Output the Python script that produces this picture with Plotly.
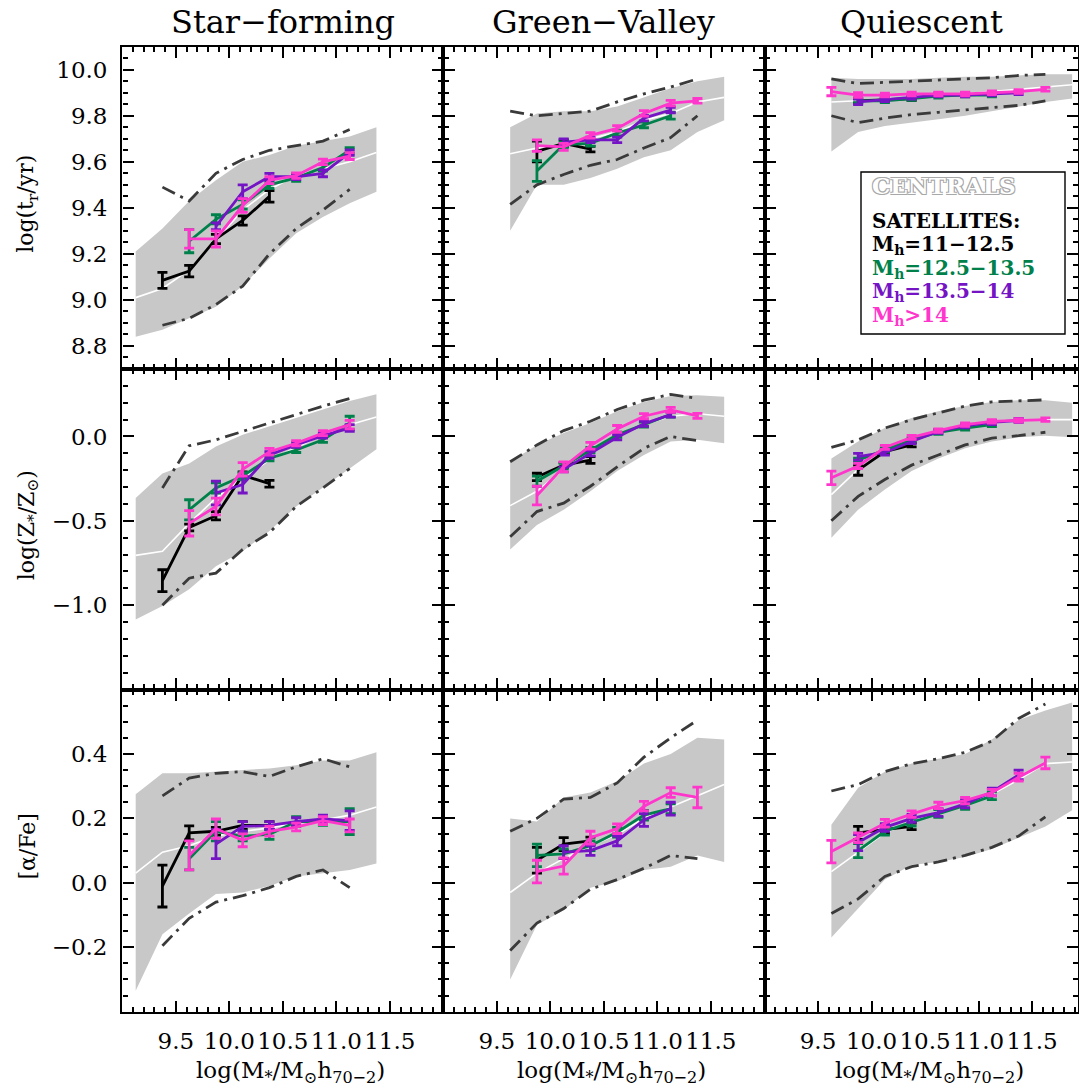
import plotly.graph_objects as go

W, H = 1079, 1088

# ------------------------------------------------------------------
# Stellar-mass bin centres (log M*/Msun h70^-2)
# ------------------------------------------------------------------
M_FROM_9125 = [9.125, 9.375, 9.625, 9.875, 10.125, 10.375, 10.625, 10.875, 11.125, 11.375]
M_FROM_9375 = [9.375, 9.625, 9.875, 10.125, 10.375, 10.625, 10.875, 11.125]
M_FROM_9625 = [9.625, 9.875, 10.125, 10.375, 10.625, 10.875, 11.125, 11.375, 11.625]
M_FROM_9625_LONG = [9.625, 9.875, 10.125, 10.375, 10.625, 10.875, 11.125, 11.375, 11.625, 11.875]
M_GV_DD = [9.625, 9.875, 10.125, 10.375, 10.625, 10.875, 11.125, 11.375]

# ------------------------------------------------------------------
# Star-forming : log age
# ------------------------------------------------------------------
sf_age_band_hi = [9.21, 9.31, 9.43, 9.52, 9.60, 9.63, 9.67, 9.69, 9.71, 9.75]
sf_age_band_lo = [8.84, 8.87, 8.92, 8.97, 9.06, 9.18, 9.29, 9.36, 9.42, 9.47]
sf_age_band_med = [9.01, 9.05, 9.13, 9.26, 9.39, 9.48, 9.54, 9.57, 9.60, 9.64]
sf_age_dd_hi = [9.49, 9.43, 9.55, 9.61, 9.65, 9.67, 9.69, 9.74]
sf_age_dd_lo = [8.89, 8.92, 8.98, 9.06, 9.20, 9.31, 9.39, 9.48]
sf_age_k_x = [9.375, 9.625, 9.875, 10.125, 10.375]
sf_age_k_y = [9.085, 9.125, 9.265, 9.345, 9.45]
sf_age_k_e = [0.035, 0.025, 0.02, 0.02, 0.025]
sf_age_g_x = [9.625, 9.875, 10.125, 10.375, 10.625, 10.875, 11.125]
sf_age_g_y = [9.255, 9.35, 9.415, 9.50, 9.53, 9.575, 9.65]
sf_age_g_e = [0.05, 0.02, 0.02, 0.015, 0.015, 0.015, 0.012]
sf_age_p_x = [9.875, 10.125, 10.375, 10.625, 10.875, 11.125]
sf_age_p_y = [9.32, 9.47, 9.535, 9.535, 9.55, 9.64]
sf_age_p_e = [0.015, 0.03, 0.015, 0.012, 0.015, 0.012]
sf_age_m_x = [9.625, 9.875, 10.125, 10.375, 10.625, 10.875, 11.125]
sf_age_m_y = [9.265, 9.265, 9.41, 9.52, 9.54, 9.60, 9.625]
sf_age_m_e = [0.04, 0.035, 0.03, 0.015, 0.012, 0.012, 0.015]

# ------------------------------------------------------------------
# Green valley : log age
# ------------------------------------------------------------------
gv_age_band_hi = [9.75, 9.81, 9.82, 9.82, 9.84, 9.88, 9.92, 9.95, 9.97]
gv_age_band_lo = [9.30, 9.50, 9.50, 9.53, 9.57, 9.62, 9.65, 9.73, 9.78]
gv_age_band_med = [9.635, 9.66, 9.675, 9.70, 9.73, 9.78, 9.81, 9.86, 9.88]
gv_age_dd_hi = [9.82, 9.80, 9.81, 9.82, 9.86, 9.895, 9.925, 9.96]
gv_age_dd_lo = [9.415, 9.50, 9.545, 9.585, 9.61, 9.66, 9.705, 9.80]
gv_age_k_x = [9.875, 10.125, 10.375]
gv_age_k_y = [9.645, 9.68, 9.655]
gv_age_k_e = [0.045, 0.015, 0.012]
gv_age_g_x = [9.875, 10.125, 10.375, 10.625, 10.875, 11.125]
gv_age_g_y = [9.56, 9.675, 9.68, 9.725, 9.76, 9.80]
gv_age_g_e = [0.045, 0.012, 0.012, 0.012, 0.012, 0.015]
gv_age_p_x = [10.125, 10.375, 10.625, 10.875, 11.125]
gv_age_p_y = [9.685, 9.695, 9.695, 9.79, 9.825]
gv_age_p_e = [0.015, 0.012, 0.012, 0.012, 0.012]
gv_age_m_x = [9.875, 10.125, 10.375, 10.625, 10.875, 11.125, 11.375]
gv_age_m_y = [9.67, 9.665, 9.715, 9.745, 9.81, 9.855, 9.865]
gv_age_m_e = [0.025, 0.015, 0.012, 0.012, 0.012, 0.012, 0.01]

# ------------------------------------------------------------------
# Quiescent : log age
# ------------------------------------------------------------------
q_age_band_hi = [9.965, 9.96, 9.96, 9.96, 9.965, 9.97, 9.97, 9.975, 9.98, 9.98]
q_age_band_lo = [9.645, 9.73, 9.755, 9.77, 9.785, 9.80, 9.82, 9.84, 9.86, 9.875]
q_age_band_med = [9.86, 9.865, 9.875, 9.88, 9.885, 9.895, 9.905, 9.915, 9.925, 9.935]
q_age_dd_hi = [9.96, 9.94, 9.945, 9.95, 9.955, 9.96, 9.965, 9.975, 9.98]
q_age_dd_lo = [9.80, 9.77, 9.79, 9.805, 9.815, 9.825, 9.835, 9.845, 9.865]
q_age_k_x = [9.875, 10.125, 10.375]
q_age_k_y = [9.865, 9.87, 9.875]
q_age_k_e = [0.01, 0.008, 0.008]
q_age_g_x = [9.875, 10.125, 10.375, 10.625, 10.875, 11.125]
q_age_g_y = [9.865, 9.865, 9.875, 9.885, 9.89, 9.89]
q_age_g_e = [0.008, 0.008, 0.008, 0.008, 0.008, 0.008]
q_age_p_x = [9.875, 10.125, 10.375, 10.625, 10.875, 11.125, 11.375]
q_age_p_y = [9.86, 9.87, 9.88, 9.89, 9.89, 9.895, 9.90]
q_age_p_e = [0.012, 0.008, 0.008, 0.008, 0.008, 0.008, 0.008]
q_age_m_x = [9.625, 9.875, 10.125, 10.375, 10.625, 10.875, 11.125, 11.375, 11.625]
q_age_m_y = [9.905, 9.89, 9.89, 9.895, 9.895, 9.895, 9.90, 9.905, 9.915]
q_age_m_e = [0.018, 0.01, 0.008, 0.008, 0.008, 0.008, 0.008, 0.008, 0.008]

# ------------------------------------------------------------------
# Star-forming : log Z
# ------------------------------------------------------------------
sf_z_band_hi = [-0.365, -0.22, -0.16, -0.06, 0.01, 0.06, 0.11, 0.16, 0.21, 0.25]
sf_z_band_lo = [-1.085, -1.005, -0.905, -0.77, -0.68, -0.56, -0.415, -0.305, -0.19, -0.075]
sf_z_band_med = [-0.705, -0.68, -0.515, -0.365, -0.245, -0.14, -0.065, 0.01, 0.07, 0.115]
sf_z_dd_hi = [-0.305, -0.055, -0.02, 0.03, 0.08, 0.13, 0.18, 0.225]
sf_z_dd_lo = [-1.0, -0.84, -0.81, -0.67, -0.57, -0.415, -0.305, -0.19]
sf_z_k_x = [9.375, 9.625, 9.875, 10.125, 10.375]
sf_z_k_y = [-0.855, -0.54, -0.47, -0.23, -0.28]
sf_z_k_e = [0.065, 0.02, 0.025, 0.02, 0.02]
sf_z_g_x = [9.625, 9.875, 10.125, 10.375, 10.625, 10.875, 11.125]
sf_z_g_y = [-0.435, -0.305, -0.235, -0.13, -0.08, -0.02, 0.08]
sf_z_g_e = [0.06, 0.03, 0.02, 0.015, 0.015, 0.015, 0.04]
sf_z_p_x = [9.875, 10.125, 10.375, 10.625, 10.875, 11.125]
sf_z_p_y = [-0.335, -0.285, -0.11, -0.05, 0.005, 0.05]
sf_z_p_e = [0.07, 0.05, 0.02, 0.015, 0.015, 0.02]
sf_z_m_x = [9.625, 9.875, 10.125, 10.375, 10.625, 10.875, 11.125]
sf_z_m_y = [-0.515, -0.415, -0.195, -0.09, -0.04, 0.02, 0.07]
sf_z_m_e = [0.075, 0.05, 0.04, 0.02, 0.015, 0.015, 0.025]

# ------------------------------------------------------------------
# Green valley : log Z
# ------------------------------------------------------------------
gv_z_band_hi = [-0.15, -0.05, 0.02, 0.08, 0.15, 0.205, 0.24, 0.245, 0.235]
gv_z_band_lo = [-0.67, -0.525, -0.435, -0.325, -0.205, -0.11, -0.03, -0.02, -0.04]
gv_z_band_med = [-0.41, -0.325, -0.195, -0.08, 0.01, 0.07, 0.12, 0.135, 0.12]
gv_z_dd_hi = [-0.15, -0.05, 0.035, 0.09, 0.16, 0.215, 0.25, 0.225]
gv_z_dd_lo = [-0.595, -0.445, -0.395, -0.295, -0.18, -0.07, 0.0, -0.025]
gv_z_k_x = [9.875, 10.125, 10.375]
gv_z_k_y = [-0.24, -0.17, -0.14]
gv_z_k_e = [0.022, 0.015, 0.02]
gv_z_g_x = [9.875, 10.125, 10.375, 10.625, 10.875, 11.125]
gv_z_g_y = [-0.265, -0.175, -0.08, 0.01, 0.07, 0.13]
gv_z_g_e = [0.03, 0.015, 0.015, 0.015, 0.015, 0.015]
gv_z_p_x = [10.125, 10.375, 10.625, 10.875, 11.125]
gv_z_p_y = [-0.195, -0.10, -0.005, 0.075, 0.13]
gv_z_p_e = [0.015, 0.015, 0.015, 0.015, 0.015]
gv_z_m_x = [9.875, 10.125, 10.375, 10.625, 10.875, 11.125, 11.375]
gv_z_m_y = [-0.35, -0.18, -0.055, 0.045, 0.12, 0.158, 0.122]
gv_z_m_e = [0.055, 0.03, 0.02, 0.02, 0.015, 0.015, 0.015]

# ------------------------------------------------------------------
# Quiescent : log Z
# ------------------------------------------------------------------
q_z_band_hi = [-0.13, -0.03, 0.05, 0.11, 0.15, 0.18, 0.205, 0.215, 0.215, 0.20]
q_z_band_lo = [-0.60, -0.435, -0.315, -0.205, -0.13, -0.07, -0.03, -0.005, 0.005, -0.005]
q_z_band_med = [-0.345, -0.195, -0.09, -0.02, 0.025, 0.06, 0.08, 0.093, 0.10, 0.10]
q_z_dd_hi = [-0.065, -0.02, 0.05, 0.10, 0.14, 0.18, 0.205, 0.213, 0.217]
q_z_dd_lo = [-0.50, -0.355, -0.255, -0.17, -0.11, -0.05, -0.01, 0.005, 0.025]
q_z_k_x = [9.875, 10.125, 10.375]
q_z_k_y = [-0.20, -0.09, -0.05]
q_z_k_e = [0.03, 0.012, 0.012]
q_z_g_x = [9.875, 10.125, 10.375, 10.625, 10.875, 11.125]
q_z_g_y = [-0.14, -0.08, -0.02, 0.025, 0.05, 0.07]
q_z_g_e = [0.012, 0.012, 0.012, 0.012, 0.012, 0.012]
q_z_p_x = [9.875, 10.125, 10.375, 10.625, 10.875, 11.125, 11.375]
q_z_p_y = [-0.12, -0.095, -0.03, 0.03, 0.063, 0.083, 0.095]
q_z_p_e = [0.02, 0.015, 0.012, 0.012, 0.012, 0.012, 0.012]
q_z_m_x = [9.625, 9.875, 10.125, 10.375, 10.625, 10.875, 11.125, 11.375, 11.625]
q_z_m_y = [-0.245, -0.175, -0.065, -0.005, 0.035, 0.07, 0.09, 0.095, 0.10]
q_z_m_e = [0.04, 0.015, 0.012, 0.012, 0.01, 0.01, 0.01, 0.01, 0.01]

# ------------------------------------------------------------------
# Star-forming : [alpha/Fe]
# ------------------------------------------------------------------
sf_a_band_hi = [0.275, 0.34, 0.34, 0.345, 0.35, 0.355, 0.365, 0.38, 0.38, 0.405]
sf_a_band_lo = [-0.335, -0.16, -0.095, -0.035, -0.03, -0.01, 0.02, 0.03, 0.04, 0.06]
sf_a_band_med = [0.03, 0.095, 0.115, 0.145, 0.16, 0.17, 0.185, 0.195, 0.21, 0.235]
sf_a_dd_hi = [0.27, 0.325, 0.34, 0.345, 0.33, 0.36, 0.385, 0.36]
sf_a_dd_lo = [-0.195, -0.11, -0.06, -0.04, -0.015, 0.02, 0.04, -0.015]
sf_a_k_x = [9.375, 9.625, 9.875, 10.125, 10.375]
sf_a_k_y = [-0.01, 0.155, 0.16, 0.178, 0.178]
sf_a_k_e = [0.065, 0.022, 0.012, 0.012, 0.012]
sf_a_g_x = [9.625, 9.875, 10.125, 10.375, 10.625, 10.875, 11.125]
sf_a_g_y = [0.075, 0.16, 0.145, 0.15, 0.19, 0.19, 0.19]
sf_a_g_e = [0.035, 0.03, 0.015, 0.015, 0.015, 0.012, 0.04]
sf_a_p_x = [9.875, 10.125, 10.375, 10.625, 10.875, 11.125]
sf_a_p_y = [0.12, 0.175, 0.178, 0.19, 0.198, 0.193]
sf_a_p_e = [0.045, 0.015, 0.012, 0.012, 0.012, 0.03]
sf_a_m_x = [9.625, 9.875, 10.125, 10.375, 10.625, 10.875, 11.125]
sf_a_m_y = [0.085, 0.168, 0.132, 0.16, 0.173, 0.193, 0.178]
sf_a_m_e = [0.045, 0.03, 0.02, 0.015, 0.012, 0.012, 0.02]

# ------------------------------------------------------------------
# Green valley : [alpha/Fe]
# ------------------------------------------------------------------
gv_a_band_hi = [0.20, 0.19, 0.265, 0.28, 0.315, 0.37, 0.40, 0.45, 0.445]
gv_a_band_lo = [-0.30, -0.13, -0.085, -0.015, 0.005, 0.04, 0.05, 0.085, 0.065]
gv_a_band_med = [-0.03, 0.03, 0.075, 0.115, 0.15, 0.20, 0.235, 0.27, 0.305]
gv_a_dd_hi = [0.16, 0.20, 0.26, 0.265, 0.31, 0.39, 0.45, 0.505]
gv_a_dd_lo = [-0.21, -0.125, -0.08, -0.02, 0.01, 0.045, 0.085, 0.075]
gv_a_k_x = [9.875, 10.125, 10.375]
gv_a_k_y = [0.07, 0.12, 0.13]
gv_a_k_e = [0.04, 0.02, 0.012]
gv_a_g_x = [9.875, 10.125, 10.375, 10.625, 10.875, 11.125]
gv_a_g_y = [0.085, 0.09, 0.115, 0.157, 0.21, 0.23]
gv_a_g_e = [0.035, 0.015, 0.015, 0.015, 0.015, 0.015]
gv_a_p_x = [10.125, 10.375, 10.625, 10.875, 11.125]
gv_a_p_y = [0.095, 0.10, 0.13, 0.195, 0.23]
gv_a_p_e = [0.02, 0.015, 0.015, 0.02, 0.02]
gv_a_m_x = [9.875, 10.125, 10.375, 10.625, 10.875, 11.125, 11.375]
gv_a_m_y = [0.035, 0.052, 0.14, 0.168, 0.238, 0.28, 0.265]
gv_a_m_e = [0.035, 0.025, 0.02, 0.015, 0.015, 0.015, 0.032]

# ------------------------------------------------------------------
# Quiescent : [alpha/Fe]
# ------------------------------------------------------------------
q_a_band_hi = [0.18, 0.295, 0.345, 0.37, 0.385, 0.40, 0.445, 0.505, 0.535, 0.56]
q_a_band_lo = [-0.17, -0.08, 0.01, 0.055, 0.065, 0.08, 0.105, 0.14, 0.175, 0.225]
q_a_band_med = [0.035, 0.095, 0.155, 0.19, 0.22, 0.245, 0.275, 0.32, 0.37, 0.375]
q_a_dd_hi = [0.285, 0.305, 0.345, 0.37, 0.385, 0.405, 0.44, 0.51, 0.555]
q_a_dd_lo = [-0.095, -0.05, 0.02, 0.05, 0.065, 0.085, 0.11, 0.145, 0.205]
q_a_k_x = [9.875, 10.125, 10.375]
q_a_k_y = [0.155, 0.165, 0.175]
q_a_k_e = [0.02, 0.012, 0.01]
q_a_g_x = [9.875, 10.125, 10.375, 10.625, 10.875, 11.125]
q_a_g_y = [0.10, 0.16, 0.188, 0.215, 0.24, 0.27]
q_a_g_e = [0.022, 0.012, 0.012, 0.012, 0.012, 0.012]
q_a_p_x = [9.875, 10.125, 10.375, 10.625, 10.875, 11.125, 11.375]
q_a_p_y = [0.125, 0.172, 0.20, 0.218, 0.245, 0.282, 0.335]
q_a_p_e = [0.025, 0.012, 0.012, 0.012, 0.012, 0.012, 0.015]
q_a_m_x = [9.625, 9.875, 10.125, 10.375, 10.625, 10.875, 11.125, 11.375, 11.625]
q_a_m_y = [0.097, 0.14, 0.185, 0.213, 0.24, 0.255, 0.28, 0.328, 0.372]
q_a_m_e = [0.035, 0.015, 0.012, 0.01, 0.01, 0.01, 0.01, 0.012, 0.018]

# ------------------------------------------------------------------
# Labels and styles
# ------------------------------------------------------------------
COLUMN_TITLES = ["Star\u2212forming", "Green\u2212Valley", "Quiescent"]
ROW_TITLES = ["log(t<sub>r</sub>/yr)", "log(Z<sub>*</sub>/Z<sub>\u2299</sub>)", "[\u03b1/Fe]"]
X_TITLE = "log(M<sub>*</sub>/M<sub>\u2299</sub>h<sub>70\u22122</sub>)"
X_TICKS = [9.5, 10.0, 10.5, 11.0, 11.5]
Y_TICKS = [[8.8, 9.0, 9.2, 9.4, 9.6, 9.8, 10.0], [-1.0, -0.5, 0.0], [-0.2, 0.0, 0.2, 0.4]]
Y_RANGES = [[8.7, 10.1], [-1.5, 0.4], [-0.4, 0.6]]
Y_MINOR = [0.05, 0.1, 0.05]
GROUP_NAMES = ["M<sub>h</sub>=11\u221212.5", "M<sub>h</sub>=12.5\u221213.5",
               "M<sub>h</sub>=13.5\u221214", "M<sub>h</sub>>14"]
GROUP_COLORS = ["#000000", "#00804a", "#7414c4", "#ff36cc"]

BAND_COLOR = "#c8c8c8"
DD_COLOR = "#3a3a3a"
FONT = "DejaVu Serif"

# panel layout in pixels
COL_PX = [(122.3, 443.3), (443.3, 764.5), (764.5, 1078.0)]
ROW_PX = [(46.7, 369.0), (369.0, 689.5), (689.5, 1011.7)]
PX_PER_DEX = 107.0

panels = [
    # row 0 : age
    dict(bx=M_FROM_9125, hi=sf_age_band_hi, lo=sf_age_band_lo, med=sf_age_band_med,
         dx=M_FROM_9375, dhi=sf_age_dd_hi, dlo=sf_age_dd_lo,
         sats=[(sf_age_k_x, sf_age_k_y, sf_age_k_e), (sf_age_g_x, sf_age_g_y, sf_age_g_e),
               (sf_age_p_x, sf_age_p_y, sf_age_p_e), (sf_age_m_x, sf_age_m_y, sf_age_m_e)]),
    dict(bx=M_FROM_9625, hi=gv_age_band_hi, lo=gv_age_band_lo, med=gv_age_band_med,
         dx=M_GV_DD, dhi=gv_age_dd_hi, dlo=gv_age_dd_lo,
         sats=[(gv_age_k_x, gv_age_k_y, gv_age_k_e), (gv_age_g_x, gv_age_g_y, gv_age_g_e),
               (gv_age_p_x, gv_age_p_y, gv_age_p_e), (gv_age_m_x, gv_age_m_y, gv_age_m_e)]),
    dict(bx=M_FROM_9625_LONG, hi=q_age_band_hi, lo=q_age_band_lo, med=q_age_band_med,
         dx=M_FROM_9625, dhi=q_age_dd_hi, dlo=q_age_dd_lo,
         sats=[(q_age_k_x, q_age_k_y, q_age_k_e), (q_age_g_x, q_age_g_y, q_age_g_e),
               (q_age_p_x, q_age_p_y, q_age_p_e), (q_age_m_x, q_age_m_y, q_age_m_e)]),
    # row 1 : metallicity
    dict(bx=M_FROM_9125, hi=sf_z_band_hi, lo=sf_z_band_lo, med=sf_z_band_med,
         dx=M_FROM_9375, dhi=sf_z_dd_hi, dlo=sf_z_dd_lo,
         sats=[(sf_z_k_x, sf_z_k_y, sf_z_k_e), (sf_z_g_x, sf_z_g_y, sf_z_g_e),
               (sf_z_p_x, sf_z_p_y, sf_z_p_e), (sf_z_m_x, sf_z_m_y, sf_z_m_e)]),
    dict(bx=M_FROM_9625, hi=gv_z_band_hi, lo=gv_z_band_lo, med=gv_z_band_med,
         dx=M_GV_DD, dhi=gv_z_dd_hi, dlo=gv_z_dd_lo,
         sats=[(gv_z_k_x, gv_z_k_y, gv_z_k_e), (gv_z_g_x, gv_z_g_y, gv_z_g_e),
               (gv_z_p_x, gv_z_p_y, gv_z_p_e), (gv_z_m_x, gv_z_m_y, gv_z_m_e)]),
    dict(bx=M_FROM_9625_LONG, hi=q_z_band_hi, lo=q_z_band_lo, med=q_z_band_med,
         dx=M_FROM_9625, dhi=q_z_dd_hi, dlo=q_z_dd_lo,
         sats=[(q_z_k_x, q_z_k_y, q_z_k_e), (q_z_g_x, q_z_g_y, q_z_g_e),
               (q_z_p_x, q_z_p_y, q_z_p_e), (q_z_m_x, q_z_m_y, q_z_m_e)]),
    # row 2 : alpha/Fe
    dict(bx=M_FROM_9125, hi=sf_a_band_hi, lo=sf_a_band_lo, med=sf_a_band_med,
         dx=M_FROM_9375, dhi=sf_a_dd_hi, dlo=sf_a_dd_lo,
         sats=[(sf_a_k_x, sf_a_k_y, sf_a_k_e), (sf_a_g_x, sf_a_g_y, sf_a_g_e),
               (sf_a_p_x, sf_a_p_y, sf_a_p_e), (sf_a_m_x, sf_a_m_y, sf_a_m_e)]),
    dict(bx=M_FROM_9625, hi=gv_a_band_hi, lo=gv_a_band_lo, med=gv_a_band_med,
         dx=M_GV_DD, dhi=gv_a_dd_hi, dlo=gv_a_dd_lo,
         sats=[(gv_a_k_x, gv_a_k_y, gv_a_k_e), (gv_a_g_x, gv_a_g_y, gv_a_g_e),
               (gv_a_p_x, gv_a_p_y, gv_a_p_e), (gv_a_m_x, gv_a_m_y, gv_a_m_e)]),
    dict(bx=M_FROM_9625_LONG, hi=q_a_band_hi, lo=q_a_band_lo, med=q_a_band_med,
         dx=M_FROM_9625, dhi=q_a_dd_hi, dlo=q_a_dd_lo,
         sats=[(q_a_k_x, q_a_k_y, q_a_k_e), (q_a_g_x, q_a_g_y, q_a_g_e),
               (q_a_p_x, q_a_p_y, q_a_p_e), (q_a_m_x, q_a_m_y, q_a_m_e)]),
]

fig = go.Figure()
layout_axes = {}


def px_x(p):
    return p / W


def px_y(p):
    return 1 - p / H


for k, pan in enumerate(panels):
    r, c = divmod(k, 3)
    n = k + 1
    xa = "x" if n == 1 else f"x{n}"
    ya = "y" if n == 1 else f"y{n}"

    # centrals: percentile band and median
    fig.add_trace(go.Scatter(
        x=pan["bx"] + pan["bx"][::-1], y=pan["hi"] + pan["lo"][::-1],
        fill="toself", fillcolor=BAND_COLOR, mode="lines", line=dict(width=0),
        hoverinfo="skip", showlegend=False, xaxis=xa, yaxis=ya))
    fig.add_trace(go.Scatter(
        x=pan["bx"], y=pan["med"], mode="lines", line=dict(color="white", width=1.6),
        hoverinfo="skip", showlegend=False, xaxis=xa, yaxis=ya))
    # dash-dotted envelopes
    for yy in (pan["dhi"], pan["dlo"]):
        fig.add_trace(go.Scatter(
            x=pan["dx"], y=yy, mode="lines",
            line=dict(color=DD_COLOR, width=2.8, dash="14px,6px,3px,6px"),
            hoverinfo="skip", showlegend=False, xaxis=xa, yaxis=ya))
    # satellites in halo-mass bins
    for (sx, sy, se), col, name in zip(pan["sats"], GROUP_COLORS, GROUP_NAMES):
        fig.add_trace(go.Scatter(
            x=sx, y=sy, mode="lines", name=name, showlegend=False,
            line=dict(color=col, width=2.8),
            error_y=dict(type="data", array=se, visible=True, color=col,
                         thickness=2.8, width=5),
            xaxis=xa, yaxis=ya))

    x0, x1 = COL_PX[c]
    y0, y1 = ROW_PX[r]
    xr = [9.0, 9.0 + (x1 - x0) / PX_PER_DEX]
    axis_common = dict(
        showline=True, linewidth=2.4, linecolor="black", mirror="allticks",
        ticks="inside", ticklen=11, tickwidth=2, tickcolor="black",
        showgrid=False, zeroline=False, fixedrange=True,
    )
    layout_axes["xaxis" if n == 1 else f"xaxis{n}"] = dict(
        axis_common, domain=[px_x(x0), px_x(x1)], range=xr,
        anchor=ya, tickmode="array", tickvals=X_TICKS,
        ticktext=[f"{v:.1f}" for v in X_TICKS], tickangle=0,
        showticklabels=(r == 2), ticklabelstandoff=7,
        tickfont=dict(family=FONT, size=23, color="black"),
        minor=dict(dtick=0.1, tick0=9.0, ticks="inside", ticklen=5,
                   tickwidth=1.5, tickcolor="black", showgrid=False),
    )
    layout_axes["yaxis" if n == 1 else f"yaxis{n}"] = dict(
        axis_common, domain=[px_y(y1), px_y(y0)], range=Y_RANGES[r],
        anchor=xa, tickmode="array", tickvals=Y_TICKS[r],
        ticktext=[f"{v:.1f}".replace("-", "\u2212") for v in Y_TICKS[r]],
        showticklabels=(c == 0), ticklabelstandoff=8,
        tickfont=dict(family=FONT, size=23, color="black"),
        minor=dict(dtick=Y_MINOR[r], tick0=0.0, ticks="inside", ticklen=5,
                   tickwidth=1.5, tickcolor="black", showgrid=False),
    )

annotations = []
# column titles and mass-axis titles
for c, t in enumerate(COLUMN_TITLES):
    x0, x1 = COL_PX[c]
    annotations.append(dict(
        text=t, x=px_x((x0 + x1) / 2), y=px_y(22), xref="paper", yref="paper",
        xanchor="center", yanchor="middle", showarrow=False,
        font=dict(family=FONT, size=32, color="black")))
    annotations.append(dict(
        text=X_TITLE, x=px_x((x0 + x1) / 2 + 8), y=px_y(1072), xref="paper", yref="paper",
        xanchor="center", yanchor="middle", showarrow=False,
        font=dict(family=FONT, size=23, color="black")))
# row titles
for r, t in enumerate(ROW_TITLES):
    y0, y1 = ROW_PX[r]
    annotations.append(dict(
        text=t, x=px_x(28), y=px_y((y0 + y1) / 2 - 4), xref="paper", yref="paper",
        xanchor="center", yanchor="middle", textangle=-90, showarrow=False,
        font=dict(family=FONT, size=22, color="black")))

# key in the quiescent age panel
LEG_X = 870
annotations.append(dict(
    text="CENTRALS", x=px_x(LEG_X), y=px_y(186), xref="paper", yref="paper",
    xanchor="left", yanchor="middle", showarrow=False,
    font=dict(family=FONT, size=23, color="white", weight="bold",
              shadow="1px 1px 0 #a8a8a8, -1px -1px 0 #a8a8a8, 1px -1px 0 #a8a8a8, -1px 1px 0 #a8a8a8")))
annotations.append(dict(
    text="SATELLITES:", x=px_x(LEG_X), y=px_y(221), xref="paper", yref="paper",
    xanchor="left", yanchor="middle", showarrow=False,
    font=dict(family=FONT, size=20, color="black", weight="bold")))
for i, (name, col) in enumerate(zip(GROUP_NAMES, GROUP_COLORS)):
    annotations.append(dict(
        text=name, x=px_x(LEG_X), y=px_y(245 + 23.5 * i), xref="paper", yref="paper",
        xanchor="left", yanchor="middle", showarrow=False,
        font=dict(family=FONT, size=20, color=col, weight="bold")))

shapes = [dict(type="rect", xref="paper", yref="paper",
               x0=px_x(861), x1=px_x(1065), y0=px_y(334), y1=px_y(172),
               line=dict(color="black", width=1.4), fillcolor="white", layer="above")]

fig.update_layout(
    width=W, height=H, autosize=False,
    margin=dict(l=0, r=0, t=0, b=0, pad=0),
    paper_bgcolor="white", plot_bgcolor="white",
    showlegend=False, annotations=annotations, shapes=shapes,
    **layout_axes,
)

fig.write_html("out.html")
